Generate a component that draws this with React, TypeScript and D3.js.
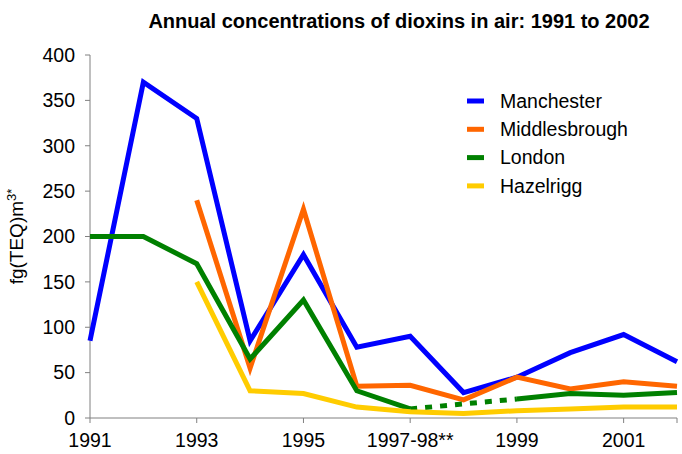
import { useEffect, useRef } from "react";
import * as d3 from "d3";

const categories = ["1991", "1992", "1993", "1994", "1995", "1996", "1997-98**", "1998-99", "1999", "2000", "2001", "2002"];
const tickLabels = ["1991", "1993", "1995", "1997-98**", "1999", "2001"];
const yTicks = [0, 50, 100, 150, 200, 250, 300, 350, 400];

const manchester = [85, 370, 330, 85, 180, 78, 90, 28, 45, 72, 92, 62];
const middlesbrough = [null, null, 240, 55, 230, 35, 36, 20, 45, 32, 40, 35];
const london = [200, 200, 170, 65, 130, 30, 10, null, 21, 27, 25, 28];
const hazelrigg = [null, null, 150, 30, 27, 12, 7, 5, 8, 10, 12, 12];

const series = [
  { name: "Manchester", values: manchester, color: "#0000FF" },
  { name: "Middlesbrough", values: middlesbrough, color: "#FF6600" },
  { name: "London", values: london, color: "#008000" },
  { name: "Hazelrigg", values: hazelrigg, color: "#FFCC00" },
];

const W = 682;
const H = 454;
const font = "'Liberation Sans', Arial, sans-serif";

export default function App() {
  const ref = useRef<SVGSVGElement>(null);

  useEffect(() => {
    const svg = d3.select(ref.current);
    svg.selectAll("*").remove();

    const x = d3.scalePoint<string>().domain(categories).range([90, 677]);
    const y = d3.scaleLinear().domain([0, 400]).range([418, 55]);

    svg.append("text")
      .attr("x", 399).attr("y", 28)
      .attr("text-anchor", "middle")
      .attr("font-family", font).attr("font-weight", "bold").attr("font-size", 20)
      .text("Annual concentrations of dioxins in air: 1991 to 2002");

    // y axis
    svg.append("line").attr("x1", 90).attr("x2", 90).attr("y1", y(400)).attr("y2", y(0))
      .attr("stroke", "#808080").attr("stroke-width", 1);
    yTicks.forEach((t) => {
      svg.append("line").attr("x1", 85).attr("x2", 90).attr("y1", y(t)).attr("y2", y(t))
        .attr("stroke", "#808080");
      svg.append("text").attr("x", 75).attr("y", y(t)).attr("dy", "0.35em")
        .attr("text-anchor", "end").attr("font-family", font).attr("font-size", 19.5)
        .text(t);
    });

    const yl = svg.append("text")
      .attr("transform", `translate(23,${y(200)}) rotate(-90)`)
      .attr("text-anchor", "middle")
      .attr("font-family", font).attr("font-size", 19);
    yl.append("tspan").text("fg(TEQ)m");
    yl.append("tspan").attr("dy", -7).attr("font-size", 13).text("3*");

    // x axis
    svg.append("line").attr("x1", 90).attr("x2", 677).attr("y1", y(0)).attr("y2", y(0))
      .attr("stroke", "#808080");
    [...tickLabels, categories[categories.length - 1]].forEach((c) => {
      svg.append("line").attr("x1", x(c)!).attr("x2", x(c)!).attr("y1", y(0)).attr("y2", y(0) + 5)
        .attr("stroke", "#808080");
    });
    tickLabels.forEach((c) => {
      svg.append("text").attr("x", x(c)!).attr("y", 447)
        .attr("text-anchor", "middle").attr("font-family", font).attr("font-size", 19.5)
        .text(c);
    });

    const line = d3.line<number | null>()
      .defined((d) => d != null)
      .x((_, i) => x(categories[i])!)
      .y((d) => y(d as number));

    series.forEach((s) => {
      // dotted bridge across a missing year
      s.values.forEach((v, i) => {
        if (v == null && i > 0 && s.values[i - 1] != null) {
          let j = i + 1;
          while (j < s.values.length && s.values[j] == null) j++;
          if (j < s.values.length) {
            svg.append("line")
              .attr("x1", x(categories[i - 1])!).attr("y1", y(s.values[i - 1] as number))
              .attr("x2", x(categories[j])!).attr("y2", y(s.values[j] as number))
              .attr("stroke", s.color).attr("stroke-width", 5)
              .attr("stroke-dasharray", "7 8");
          }
        }
      });
      svg.append("path").datum(s.values).attr("d", line)
        .attr("fill", "none").attr("stroke", s.color).attr("stroke-width", 5)
        .attr("stroke-linejoin", "miter");
    });

    // legend
    series.forEach((s, i) => {
      const ly = 101 + i * 28.3;
      svg.append("line").attr("x1", 467).attr("x2", 484).attr("y1", ly).attr("y2", ly)
        .attr("stroke", s.color).attr("stroke-width", 5);
      svg.append("text").attr("x", 500).attr("y", ly).attr("dy", "0.35em")
        .attr("font-family", font).attr("font-size", 19.5).text(s.name);
    });
  }, []);

  return (
    <svg ref={ref} width={W} height={H}
      style={{ position: "absolute", left: 0, top: 0, background: "#fff" }} />
  );
}
